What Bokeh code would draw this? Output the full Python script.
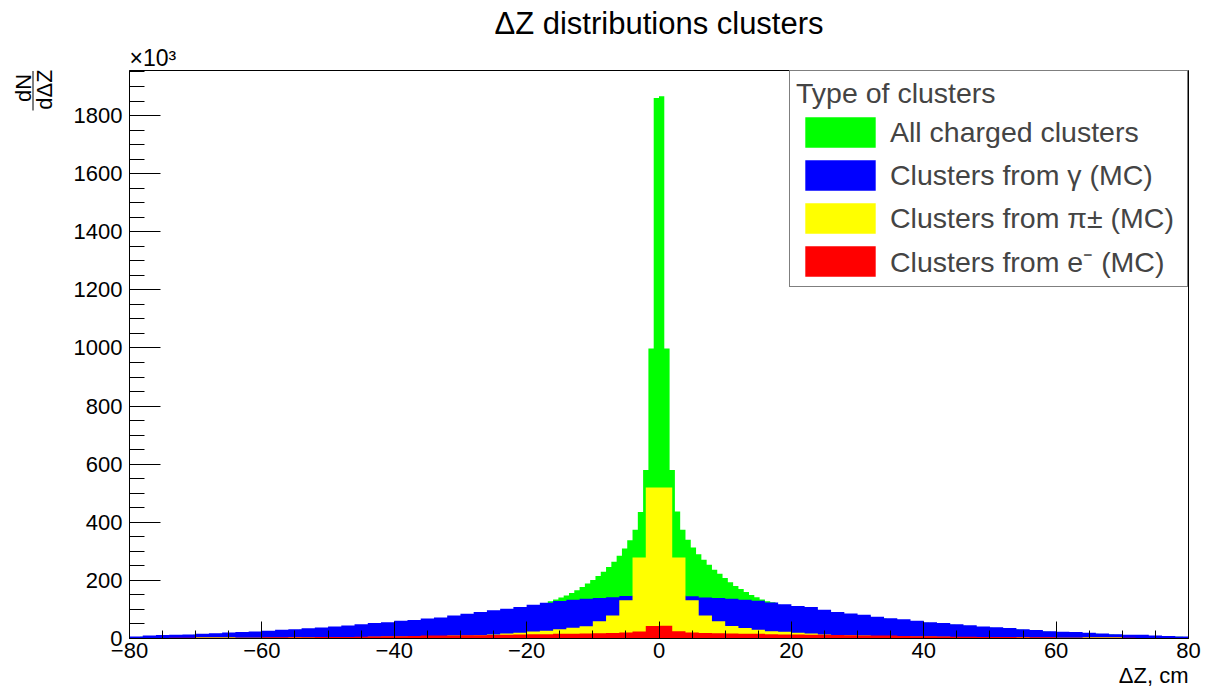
import math
import numpy as np
from bokeh.plotting import figure
from bokeh.layouts import row
from bokeh.models import (Range1d, SingleIntervalTicker, Legend, LegendItem, Title)
from bokeh.core.properties import value
from bokeh.embed import file_html
from bokeh.resources import INLINE

# ---------------- data ----------------
x_min, x_max = -80.0, 80.0
all_bin_width = 0.8     # cm, "All charged clusters"
mc_bin_width = 2.0      # cm, MC-truth histograms

all_charged = [
    5, 5, 6, 7, 8, 9, 10, 10, 11, 11,
    12, 12, 13, 13, 14, 15, 15, 16, 17, 18,
    19, 20, 20, 21, 22, 23, 24, 25, 26, 27,
    28, 29, 30, 31, 32, 34, 35, 36, 37, 38,
    40, 41, 42, 44, 45, 47, 48, 50, 51, 53,
    55, 57, 58, 60, 61, 63, 65, 66, 68, 69,
    71, 73, 75, 77, 79, 82, 85, 87, 89, 91,
    94, 96, 98, 101, 103, 106, 110,
    114, 121, 128, 134, 141, 148, 157, 166, 177, 189,
    201, 215, 230, 246, 264, 285, 310, 338, 374, 435,
    580, 998, 1860, 1866, 998, 580, 437, 374, 340, 313,
    290, 271, 254, 237, 223, 208, 194, 181, 170, 160,
    150, 142, 134, 128, 125, 116,
    113, 110, 108, 106, 104, 103, 100, 96, 93, 89,
    87, 85, 84, 82, 80, 78, 77, 73, 72, 69,
    67, 66, 64, 62, 60, 58, 57, 54, 52, 51,
    49, 48, 47, 45, 44, 43, 41, 40, 38, 37,
    36, 35, 34, 33, 31, 30, 29, 27, 26, 24,
    23, 22, 21, 21, 20, 20, 19, 18, 17, 16,
    15, 15, 14, 13, 12, 12, 12, 11, 10, 9,
    9, 8, 8, 7, 6, 6, 5,
]

gamma = [
    7, 10, 12, 13, 14, 16, 18, 21, 22, 24,
    27, 30, 32, 35, 38, 41, 45, 49, 53, 56,
    61, 64, 69, 72, 79, 85, 91, 97, 102, 108,
    116, 123, 129, 133, 137, 139, 142, 146, 148, 150,
    150, 148, 145, 141, 139, 137, 133, 130, 124, 118,
    112, 108, 99, 91, 86, 82, 75, 70, 66, 61,
    56, 53, 49, 46, 41, 39, 36, 32, 29, 25,
    23, 22, 20, 17, 15, 13, 13, 10, 9, 7,
]

pion = [
    1, 1, 1, 2, 2, 4, 4, 4, 3, 3,
    3, 3, 5, 4, 4, 4, 5, 5, 6, 7,
    7, 8, 9, 9, 10, 10, 11, 14, 17, 20,
    24, 27, 32, 37, 42, 59, 79, 132, 279, 520,
    520, 279, 132, 79, 59, 43, 36, 30, 25, 23,
    20, 17, 14, 12, 11, 10, 9, 9, 8, 7,
    7, 6, 5, 5, 4, 4, 4, 5, 3, 3,
    3, 3, 4, 4, 4, 2, 2, 1, 1, 1,
]

electron = [
    2, 2, 2, 3, 3, 3, 3, 3, 3, 3,
    4, 4, 4, 4, 5, 5, 5, 6, 7, 8,
    8, 9, 10, 10, 10, 11, 11, 12, 13, 14,
    15, 15, 16, 16, 17, 18, 19, 21, 24, 43,
    44, 25, 21, 19, 18, 17, 16, 16, 15, 14,
    14, 13, 13, 12, 11, 10, 10, 10, 9, 8,
    8, 7, 6, 6, 5, 5, 5, 4, 4, 4,
    3, 3, 3, 3, 3, 3, 2, 2, 2, 2,
]

series_names = ["All charged clusters", "Clusters from γ (MC)",
                "Clusters from π± (MC)", "Clusters from e⁻ (MC)"]
series_colors = ["#00ff00", "#0000ff", "#ffff00", "#ff0000"]

x_ticks = [-80, -60, -40, -20, 0, 20, 40, 60, 80]
x_tick_labels = ["−80", "−60", "−40", "−20", "0", "20", "40", "60", "80"]
y_ticks = [0, 200, 400, 600, 800, 1000, 1200, 1400, 1600, 1800]
y_tick_labels = ["0", "200", "400", "600", "800", "1000", "1200", "1400", "1600", "1800"]
y_max = 1955

FONT = "Liberation Sans"
SIDE_W = 70
TOTAL_W, TOTAL_H = 1210, 693
FRAME_TOP, FRAME_BOTTOM = 70, 638   # pixel rows of the plot frame (shared by both panels)

# ---------------- main figure ----------------
p = figure(width=TOTAL_W - SIDE_W, height=TOTAL_H, output_backend="svg",
           toolbar_location=None, title=None,
           x_range=Range1d(x_min, x_max), y_range=Range1d(0, y_max),
           min_border_left=129 - SIDE_W, min_border_right=22,
           min_border_top=FRAME_TOP, min_border_bottom=TOTAL_H - FRAME_BOTTOM)
p.background_fill_color = "white"
p.border_fill_color = "white"
p.outline_line_color = "black"
p.outline_line_width = 1
p.grid.visible = False


def step_patch(values, width):
    vals = np.asarray(values, dtype=float)
    edges = x_min + width * np.arange(len(vals) + 1)
    xs = np.repeat(edges, 2)
    ys = np.concatenate([[0.0], np.repeat(vals, 2), [0.0]])
    return xs, ys


renderers = []
for vals, w, col in [(all_charged, all_bin_width, series_colors[0]),
                     (gamma, mc_bin_width, series_colors[1]),
                     (pion, mc_bin_width, series_colors[2]),
                     (electron, mc_bin_width, series_colors[3])]:
    xs, ys = step_patch(vals, w)
    r = p.patch(xs, ys, fill_color=col, fill_alpha=1.0, line_color=None)
    renderers.append(r)

# axes
for ax in (p.xaxis[0], p.yaxis[0]):
    ax.axis_line_color = "black"
    ax.major_tick_line_color = "black"
    ax.minor_tick_line_color = "black"
    ax.major_tick_out = 0
    ax.minor_tick_out = 0
    ax.major_label_text_font = FONT
    ax.major_label_text_font_size = "22px"
    ax.major_label_text_color = "black"

p.xaxis.ticker = SingleIntervalTicker(interval=20, num_minor_ticks=4)
p.xaxis.major_tick_in = 17
p.xaxis.minor_tick_in = 8
p.xaxis.major_label_standoff = 4
p.xaxis.major_label_overrides = {t: s for t, s in zip(x_ticks, x_tick_labels)}

p.yaxis.ticker = SingleIntervalTicker(interval=200, num_minor_ticks=4)
p.yaxis.major_tick_in = 31
p.yaxis.minor_tick_in = 15
p.yaxis.major_label_standoff = 7
p.yaxis.major_label_overrides = {t: s for t, s in zip(y_ticks, y_tick_labels)}

# texts outside the frame as titles (above: nearest first)
p.add_layout(Title(text="×10³", align="left", text_font=FONT, text_font_size="23px",
                   text_font_style="normal", text_color="black", standoff=0), "above")
p.add_layout(Title(text="ΔZ distributions clusters", align="center", text_font=FONT,
                   text_font_size="31px", text_font_style="normal", text_color="black",
                   standoff=4), "above")
p.add_layout(Title(text="ΔZ, cm", align="right", text_font=FONT, text_font_size="22px",
                   text_font_style="normal", text_color="black", standoff=0), "below")

# legend (area legend glyphs are drawn with a 10% inset, so the boxes are enlarged)
legend = Legend(items=[LegendItem(label=n, renderers=[r])
                       for n, r in zip(series_names, renderers)],
                location="top_right", margin=0, padding=6, spacing=5,
                title="Type of clusters", title_text_font=FONT,
                title_text_font_size="28.5px", title_text_font_style="normal",
                title_standoff=3,
                label_text_font=FONT, label_text_font_size="28.5px",
                label_standoff=6, label_width=291, label_height=30,
                glyph_width=88, glyph_height=38,
                border_line_color="black", border_line_width=1,
                background_fill_color="white", background_fill_alpha=1.0)
p.add_layout(legend)

# ---------------- side strip with the y-axis title dN / dΔZ ----------------
# the row aligns this strip's frame with the main frame, so map it to pixel rows
side = figure(width=SIDE_W, height=TOTAL_H, output_backend="svg", toolbar_location=None,
              title=None, x_axis_location=None, y_axis_location=None,
              x_range=Range1d(0, SIDE_W), y_range=Range1d(FRAME_BOTTOM, FRAME_TOP),
              min_border_left=0, min_border_right=0,
              min_border_top=FRAME_TOP, min_border_bottom=TOTAL_H - FRAME_BOTTOM)
side.outline_line_color = None
side.grid.visible = False
side.background_fill_color = "white"
side.border_fill_color = "white"

side.text(x=[23], y=[87.5], text=["dN"], angle=math.pi / 2,
          text_font=value(FONT), text_font_size=value("22px"),
          text_align="center", text_baseline="middle", text_color="black")
side.text(x=[44], y=[89], text=["dΔZ"], angle=math.pi / 2,
          text_font=value(FONT), text_font_size=value("22px"),
          text_align="center", text_baseline="middle", text_color="black")
side.segment(x0=[32.5], y0=[70.5], x1=[32.5], y1=[110], line_color="black", line_width=1)

layout = row(side, p, spacing=0)
open("out.html", "w").write(file_html(layout, INLINE))
